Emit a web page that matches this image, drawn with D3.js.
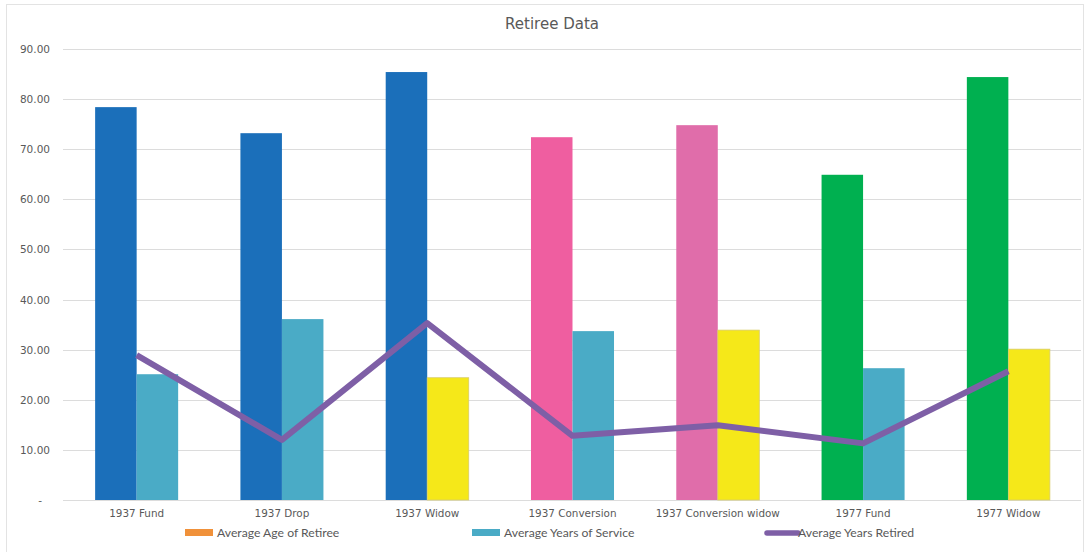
<!DOCTYPE html>
<html>
<head>
<meta charset="utf-8">
<script src="https://cdn.jsdelivr.net/npm/d3@7"></script>
<style>
  html, body { margin: 0; padding: 0; background: #fff; }
  svg { display: block; }
</style>
</head>
<body>
<svg id="chart" width="1087" height="552"></svg>
<script>
const categories = ["1937 Fund", "1937 Drop", "1937 Widow", "1937 Conversion", "1937 Conversion widow", "1977 Fund", "1977 Widow"];
const avgAge = [78.4, 73.2, 85.4, 72.4, 74.8, 64.9, 84.4];
const avgService = [25.1, 36.1, 24.4, 33.7, 33.9, 26.3, 30.1];
const avgRetired = [28.9, 12.0, 35.3, 12.8, 14.9, 11.3, 25.7];
const yTicks = [0, 10, 20, 30, 40, 50, 60, 70, 80, 90];
const seriesNames = ["Average Age of Retiree", "Average Years of Service", "Average Years Retired"];
const ageColors = ["#1b6fba", "#1b6fba", "#1b6fba", "#ef5ea0", "#e06daa", "#00b050", "#00b050"];
const serviceColors = ["#4aabc6", "#4aabc6", "#f5e819", "#4aabc6", "#f5e819", "#4aabc6", "#f5e819"];
const legendColors = ["#f0913a", "#4aabc6", "#7e5fa6"];

const svg = d3.select("#chart");
const plot = { left: 64, right: 1081, top: 49, bottom: 500 };

svg.append("rect")
  .attr("x", 6.5).attr("y", 4.5).attr("width", 1077).attr("height", 560)
  .attr("fill", "#fff").attr("stroke", "#e3e3e3");

const x = d3.scaleBand().domain(categories).range([plot.left, plot.right]).paddingInner(0).paddingOuter(0);
const y = d3.scaleLinear().domain([0, 90]).range([plot.bottom, plot.top]);

// gridlines
svg.append("g").selectAll("line").data(yTicks).join("line")
  .attr("x1", plot.left - 1).attr("x2", plot.right)
  .attr("y1", d => Math.round(y(d)) + 0.5).attr("y2", d => Math.round(y(d)) + 0.5)
  .attr("stroke", "#dcdcdc").attr("stroke-width", 1);

// y tick labels
svg.append("g").selectAll("text").data(yTicks).join("text")
  .attr("x", d => d === 0 ? 42 : 50)
  .attr("y", d => y(d) + 4)
  .attr("text-anchor", "end")
  .attr("font-family", "DejaVu Sans, sans-serif")
  .attr("font-size", 10.5)
  .attr("fill", "#595959")
  .text(d => d === 0 ? "-" : d3.format(".2f")(d));

const bw = x.bandwidth() / 3.5;
const sub = d3.scaleBand().domain([0, 1]).range([0, 2 * bw]);

// bars
const g = svg.append("g");
categories.forEach((c, i) => {
  const x0 = x(c) + x.bandwidth() / 2 - bw;
  g.append("rect")
    .attr("x", x0 + sub(0)).attr("y", y(avgAge[i]))
    .attr("width", sub.bandwidth()).attr("height", y(0) - y(avgAge[i]))
    .attr("fill", ageColors[i]);
  g.append("rect")
    .attr("x", x0 + sub(1)).attr("y", y(avgService[i]))
    .attr("width", sub.bandwidth()).attr("height", y(0) - y(avgService[i]))
    .attr("fill", serviceColors[i])
    .attr("stroke", serviceColors[i] === "#f5e819" ? "#d8cc6a" : "none")
    .attr("stroke-width", 0.8);
});

// line
const line = d3.line()
  .x((d, i) => x(categories[i]) + x.bandwidth() / 2)
  .y(d => y(d));
svg.append("path").datum(avgRetired)
  .attr("d", line)
  .attr("fill", "none")
  .attr("stroke", "#7e5fa6")
  .attr("stroke-width", 6)
  .attr("stroke-linejoin", "round");

// category labels
svg.append("g").selectAll("text").data(categories).join("text")
  .attr("x", d => x(d) + x.bandwidth() / 2)
  .attr("y", 517)
  .attr("text-anchor", "middle")
  .attr("font-family", "DejaVu Sans, sans-serif")
  .attr("font-size", 10.4)
  .attr("fill", "#595959")
  .text(d => d);

// title
svg.append("text")
  .attr("x", 552).attr("y", 29)
  .attr("text-anchor", "middle")
  .attr("font-family", "DejaVu Sans, sans-serif")
  .attr("font-size", 15)
  .attr("fill", "#595959")
  .text("Retiree Data");

// legend
const legendX = [185, 472, 767];
const leg = svg.append("g");
seriesNames.forEach((n, i) => {
  if (i < 2) {
    leg.append("rect").attr("x", legendX[i]).attr("y", 529).attr("width", 28).attr("height", 7)
      .attr("fill", legendColors[i]);
  } else {
    leg.append("line").attr("x1", legendX[i]).attr("x2", legendX[i] + 31)
      .attr("y1", 533).attr("y2", 533)
      .attr("stroke", legendColors[i]).attr("stroke-width", 5.5).attr("stroke-linecap", "round");
  }
  leg.append("text")
    .attr("x", legendX[i] + (i < 2 ? 32 : 31)).attr("y", 537)
    .attr("font-family", "Lato, sans-serif")
    .attr("font-size", 12.2)
    .attr("fill", "#595959")
    .text(n);
});
</script>
</body>
</html>
